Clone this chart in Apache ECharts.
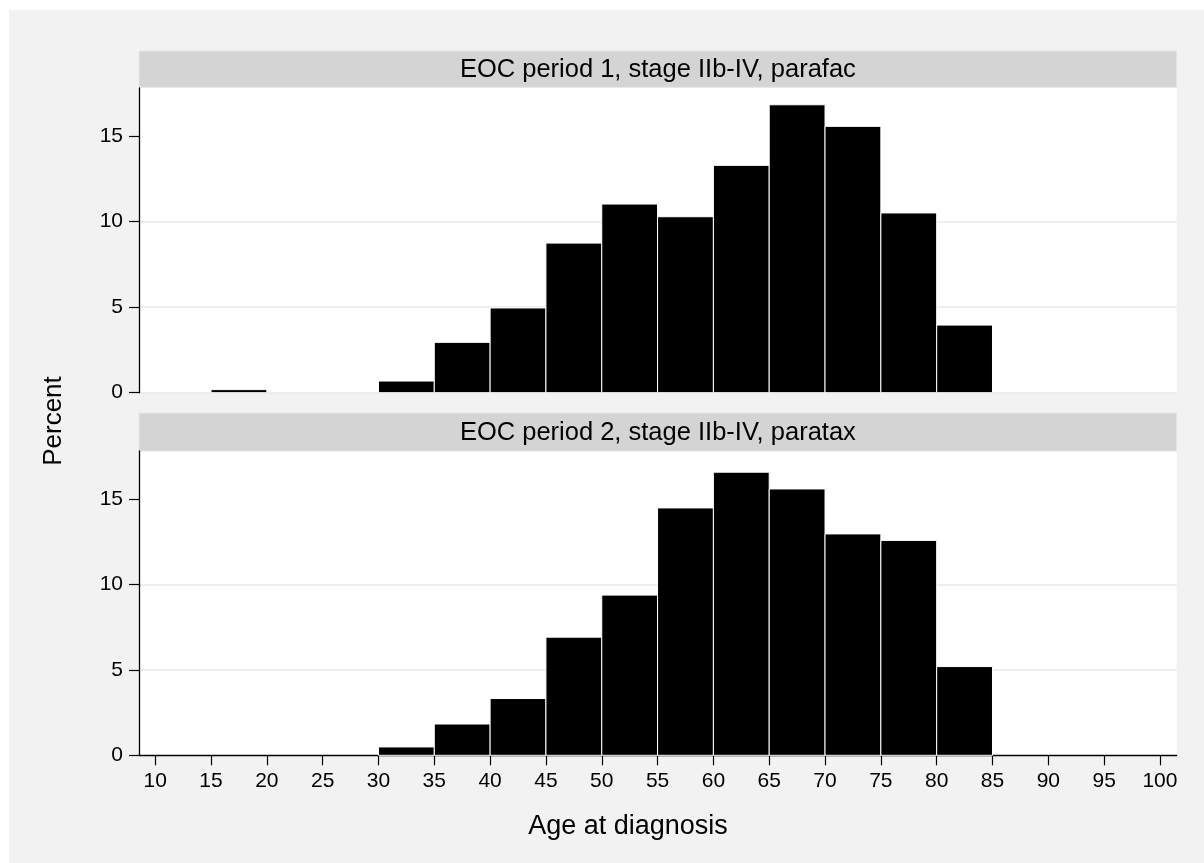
<!DOCTYPE html>
<html>
<head>
<meta charset="utf-8">
<script src="https://cdn.jsdelivr.net/npm/echarts@6/dist/echarts.min.js"></script>
<style>
  html, body { margin: 0; padding: 0; background: #fff; }
  #chart { width: 1204px; height: 863px; }
</style>
</head>
<body>
<div id="chart"></div>
<script>
// Age-at-diagnosis histograms (percent per 5-year bin), one panel per period
const binWidth = 5;
const period1BinStart = [15, 30, 35, 40, 45, 50, 55, 60, 65, 70, 75, 80];
const period1Percent  = [0.18, 0.68, 2.94, 4.95, 8.74, 11.02, 10.28, 13.28, 16.82, 15.56, 10.50, 3.95];
const period2BinStart = [30, 35, 40, 45, 50, 55, 60, 65, 70, 75, 80];
const period2Percent  = [0.49, 1.83, 3.32, 6.91, 9.37, 14.47, 16.56, 15.58, 12.95, 12.57, 5.19];
const xTickValues = [10, 15, 20, 25, 30, 35, 40, 45, 50, 55, 60, 65, 70, 75, 80, 85, 90, 95, 100];
const yTickValues = [0, 5, 10, 15];
const panelTitles = ['EOC period 1, stage IIb-IV, parafac', 'EOC period 2, stage IIb-IV, paratax'];
const xTitle = 'Age at diagnosis';
const yTitle = 'Percent';

const FONT = "'Liberation Sans', Helvetica, Arial, sans-serif";

function binRows(starts, values) {
  return starts.map((s, i) => [s, s + binWidth, values[i]]);
}

function renderBin(params, api) {
  const p0 = api.coord([api.value(0), api.value(2)]);
  const p1 = api.coord([api.value(1), 0]);
  return {
    type: 'rect',
    shape: { x: p0[0], y: p0[1], width: p1[0] - p0[0], height: p1[1] - p0[1] },
    style: { fill: '#000', stroke: '#ffffff', lineWidth: 1 }
  };
}

const PLOT_LEFT = 139, PLOT_W = 1037.7;
const grids = [
  { left: PLOT_LEFT, top: 88, width: PLOT_W, height: 304.7 },
  { left: PLOT_LEFT, top: 451, width: PLOT_W, height: 304.3 }
];
const strips = [{ y: 51, h: 36.3 }, { y: 413, h: 38 }];

function yAxisFor(idx) {
  return {
    type: 'value', gridIndex: idx, min: 0, max: 17.8,
    axisLine: { show: true, lineStyle: { color: '#000', width: 1.3 } },
    axisTick: { show: true, length: 10, customValues: yTickValues, lineStyle: { color: '#000', width: 1.2 } },
    axisLabel: { customValues: yTickValues, color: '#000', fontSize: 21, fontFamily: FONT, margin: 16 },
    splitLine: { show: true, showMaxLine: false, showMinLine: idx === 0, lineStyle: { color: '#e8e8e8', width: 1.5 } }
  };
}

function xAxisFor(idx, visible) {
  return {
    type: 'value', gridIndex: idx, min: 8.55, max: 101.5,
    show: visible,
    axisLine: { show: true, onZero: false, lineStyle: { color: '#000', width: 1.3 } },
    axisTick: { show: true, length: 10, customValues: xTickValues, lineStyle: { color: '#000', width: 1.2 } },
    axisLabel: { customValues: xTickValues, color: '#000', fontSize: 21, fontFamily: FONT, margin: 15 },
    splitLine: { show: false }
  };
}

const graphics = [
  // white page margin along the top and left edges
  { type: 'rect', left: 0, top: 0, shape: { width: 1204, height: 10 }, style: { fill: '#fff' }, silent: true },
  { type: 'rect', left: 0, top: 0, shape: { width: 9, height: 863 }, style: { fill: '#fff' }, silent: true }
];
strips.forEach((s, i) => {
  graphics.push({
    type: 'rect', shape: { x: PLOT_LEFT, y: s.y, width: PLOT_W, height: s.h },
    style: { fill: '#d4d4d4', stroke: '#dfe8ec', lineWidth: 1 }, silent: true
  });
  graphics.push({
    type: 'text', x: PLOT_LEFT + PLOT_W / 2, y: s.y + s.h / 2 + 1,
    style: { text: panelTitles[i], fill: '#000', font: '25.5px ' + FONT, align: 'center', verticalAlign: 'middle' },
    silent: true
  });
});
graphics.push({
  type: 'text', x: 628, y: 827,
  style: { text: xTitle, fill: '#000', font: '27px ' + FONT, align: 'center', verticalAlign: 'middle' }, silent: true
});
graphics.push({
  type: 'text', x: 54, y: 421, rotation: Math.PI / 2,
  style: { text: yTitle, fill: '#000', font: '26px ' + FONT, align: 'center', verticalAlign: 'middle' }, silent: true
});

const chart = echarts.init(document.getElementById('chart'), null, { renderer: 'canvas' });
chart.setOption({
  backgroundColor: '#f2f2f2',
  animation: false,
  grid: grids.map(g => Object.assign({ show: true, backgroundColor: '#fff', borderWidth: 0 }, g)),
  xAxis: [xAxisFor(0, false), xAxisFor(1, true)],
  yAxis: [yAxisFor(0), yAxisFor(1)],
  series: [
    { type: 'custom', xAxisIndex: 0, yAxisIndex: 0, renderItem: renderBin,
      encode: { x: [0, 1], y: 2 }, data: binRows(period1BinStart, period1Percent) },
    { type: 'custom', xAxisIndex: 1, yAxisIndex: 1, renderItem: renderBin,
      encode: { x: [0, 1], y: 2 }, data: binRows(period2BinStart, period2Percent) }
  ],
  graphic: graphics
});
</script>
</body>
</html>
